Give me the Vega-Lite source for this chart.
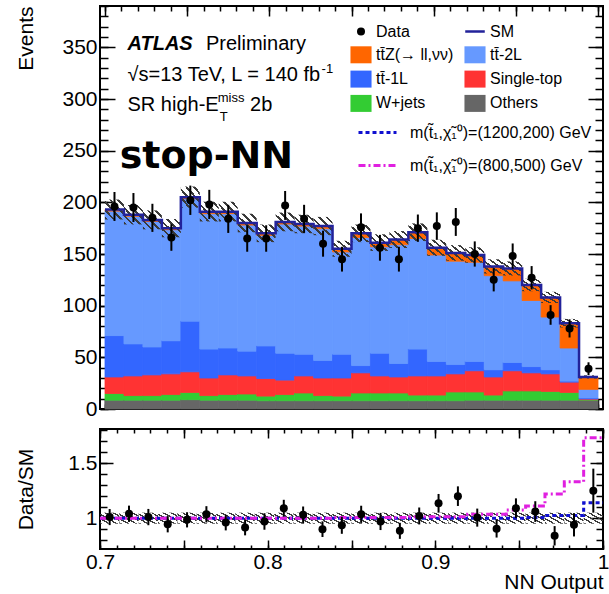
{
  "$schema": "https://vega.github.io/schema/vega-lite/v6.json",
  "padding": {"left": 14, "top": 4, "right": 2, "bottom": 2},
  "background": "white",
  "config": {
    "font": "Liberation Sans",
    "view": {"stroke": "#000000", "strokeWidth": 2},
    "axis": {
      "domain": false, "grid": false, "minExtent": 0,
      "labelFont": "Liberation Sans", "labelFontSize": 21, "labelColor": "#000000",
      "titleFont": "Liberation Sans", "titleFontSize": 21, "titleFontWeight": "normal", "titleColor": "#000000",
      "tickColor": "#000000", "tickWidth": 1.5,
      "labelFlush": false, "labelOverlap": false, "labelBound": false
    },
    "legend": {"labelFont": "Liberation Sans", "labelFontSize": 16, "labelColor": "#000000", "padding": 0, "labelLimit": 400}
  },
  "datasets": {
    "procs": [
      {"proc": "others", "rank": 1},
      {"proc": "wjets", "rank": 2},
      {"proc": "stop", "rank": 3},
      {"proc": "tt1l", "rank": 4},
      {"proc": "tt2l", "rank": 5},
      {"proc": "ttz", "rank": 6}
    ],
    "bins": [
      {"b": 1, "lo": 0.7, "hi": 0.711538, "c": 0.705769, "others": 8.5, "wjets": 6.5, "stop": 16, "tt1l": 40, "tt2l": 120.5, "ttz": 1.5, "sm": 193, "smlo": 183.4, "smhi": 202.7, "data": 196, "dlo": 182, "dhi": 210, "ratio": 1.01, "rlo": 0.937, "rhi": 1.083, "rblo": 0.95, "rbhi": 1.05, "s1": 1, "s2": 1},
      {"b": 2, "lo": 0.711538, "hi": 0.723077, "c": 0.717308, "others": 8.5, "wjets": 4.5, "stop": 19, "tt1l": 31, "tt2l": 123.5, "ttz": 1.5, "sm": 188, "smlo": 178.6, "smhi": 197.4, "data": 195, "dlo": 181, "dhi": 209, "ratio": 1.04, "rlo": 0.966, "rhi": 1.114, "rblo": 0.95, "rbhi": 1.05, "s1": 1, "s2": 1},
      {"b": 3, "lo": 0.723077, "hi": 0.734615, "c": 0.728846, "others": 8.5, "wjets": 4.5, "stop": 20, "tt1l": 27, "tt2l": 121.5, "ttz": 1.5, "sm": 183, "smlo": 173.9, "smhi": 192.2, "data": 185, "dlo": 171.4, "dhi": 198.6, "ratio": 1.01, "rlo": 0.936, "rhi": 1.084, "rblo": 0.95, "rbhi": 1.05, "s1": 1, "s2": 1},
      {"b": 4, "lo": 0.734615, "hi": 0.746154, "c": 0.740385, "others": 8.5, "wjets": 5.5, "stop": 20, "tt1l": 32, "tt2l": 107.5, "ttz": 1.5, "sm": 175, "smlo": 166.3, "smhi": 183.8, "data": 166, "dlo": 153.1, "dhi": 178.9, "ratio": 0.945, "rlo": 0.871, "rhi": 1.019, "rblo": 0.95, "rbhi": 1.05, "s1": 1, "s2": 1},
      {"b": 5, "lo": 0.746154, "hi": 0.757692, "c": 0.751923, "others": 9, "wjets": 7, "stop": 20, "tt1l": 49, "tt2l": 118.5, "ttz": 1.5, "sm": 205, "smlo": 194.8, "smhi": 215.3, "data": 202, "dlo": 187.8, "dhi": 216.2, "ratio": 0.985, "rlo": 0.916, "rhi": 1.054, "rblo": 0.95, "rbhi": 1.05, "s1": 1, "s2": 1},
      {"b": 6, "lo": 0.757692, "hi": 0.769231, "c": 0.763462, "others": 8.5, "wjets": 4.5, "stop": 17, "tt1l": 28, "tt2l": 131, "ttz": 2, "sm": 191, "smlo": 181.5, "smhi": 200.6, "data": 198, "dlo": 183.9, "dhi": 212.1, "ratio": 1.035, "rlo": 0.961, "rhi": 1.109, "rblo": 0.95, "rbhi": 1.05, "s1": 1, "s2": 1},
      {"b": 7, "lo": 0.769231, "hi": 0.780769, "c": 0.775, "others": 8.5, "wjets": 5.5, "stop": 19, "tt1l": 26, "tt2l": 130, "ttz": 2, "sm": 191, "smlo": 181.5, "smhi": 200.6, "data": 184, "dlo": 170.4, "dhi": 197.6, "ratio": 0.96, "rlo": 0.889, "rhi": 1.031, "rblo": 0.95, "rbhi": 1.05, "s1": 1, "s2": 1},
      {"b": 8, "lo": 0.780769, "hi": 0.792308, "c": 0.786538, "others": 8.5, "wjets": 6, "stop": 17.5, "tt1l": 24, "tt2l": 122, "ttz": 2, "sm": 180, "smlo": 171, "smhi": 189, "data": 165, "dlo": 152.2, "dhi": 177.8, "ratio": 0.915, "rlo": 0.844, "rhi": 0.986, "rblo": 0.95, "rbhi": 1.05, "s1": 1, "s2": 1},
      {"b": 9, "lo": 0.792308, "hi": 0.803846, "c": 0.798077, "others": 8, "wjets": 4.5, "stop": 17, "tt1l": 31.5, "tt2l": 107, "ttz": 2, "sm": 170, "smlo": 161.5, "smhi": 178.5, "data": 165, "dlo": 152.2, "dhi": 177.8, "ratio": 0.97, "rlo": 0.895, "rhi": 1.045, "rblo": 0.95, "rbhi": 1.05, "s1": 1, "s2": 1},
      {"b": 10, "lo": 0.803846, "hi": 0.815385, "c": 0.809615, "others": 8, "wjets": 6, "stop": 14, "tt1l": 26, "tt2l": 125, "ttz": 2, "sm": 181, "smlo": 172, "smhi": 190.1, "data": 197, "dlo": 183, "dhi": 211, "ratio": 1.09, "rlo": 1.013, "rhi": 1.167, "rblo": 0.95, "rbhi": 1.05, "s1": 1, "s2": 1},
      {"b": 11, "lo": 0.815385, "hi": 0.826923, "c": 0.821154, "others": 8, "wjets": 7.5, "stop": 16.5, "tt1l": 21, "tt2l": 124, "ttz": 2, "sm": 179, "smlo": 170.1, "smhi": 188, "data": 184, "dlo": 170.4, "dhi": 197.6, "ratio": 1.03, "rlo": 0.954, "rhi": 1.106, "rblo": 0.95, "rbhi": 1.05, "s1": 1, "s2": 1},
      {"b": 12, "lo": 0.826923, "hi": 0.838462, "c": 0.832692, "others": 8, "wjets": 5, "stop": 17, "tt1l": 17, "tt2l": 127.5, "ttz": 2.5, "sm": 177, "smlo": 168.2, "smhi": 185.9, "data": 160, "dlo": 147.4, "dhi": 172.6, "ratio": 0.9, "rlo": 0.829, "rhi": 0.971, "rblo": 0.95, "rbhi": 1.05, "s1": 1, "s2": 1},
      {"b": 13, "lo": 0.838462, "hi": 0.85, "c": 0.844231, "others": 8, "wjets": 4.5, "stop": 17.5, "tt1l": 23, "tt2l": 99, "ttz": 3, "sm": 155, "smlo": 147.3, "smhi": 162.8, "data": 145, "dlo": 133, "dhi": 157, "ratio": 0.935, "rlo": 0.858, "rhi": 1.012, "rblo": 0.95, "rbhi": 1.05, "s1": 1, "s2": 1.005},
      {"b": 14, "lo": 0.85, "hi": 0.861538, "c": 0.855769, "others": 8, "wjets": 7.5, "stop": 19.5, "tt1l": 7, "tt2l": 124, "ttz": 4, "sm": 170, "smlo": 161.5, "smhi": 178.5, "data": 176, "dlo": 162.7, "dhi": 189.3, "ratio": 1.035, "rlo": 0.957, "rhi": 1.113, "rblo": 0.95, "rbhi": 1.05, "s1": 1, "s2": 1.005},
      {"b": 15, "lo": 0.861538, "hi": 0.873077, "c": 0.867308, "others": 8, "wjets": 7.5, "stop": 16.5, "tt1l": 22, "tt2l": 103, "ttz": 4, "sm": 161, "smlo": 153, "smhi": 169.1, "data": 156, "dlo": 143.5, "dhi": 168.5, "ratio": 0.97, "rlo": 0.892, "rhi": 1.048, "rblo": 0.95, "rbhi": 1.05, "s1": 1, "s2": 1.005},
      {"b": 16, "lo": 0.873077, "hi": 0.884615, "c": 0.878846, "others": 8, "wjets": 7.5, "stop": 15.5, "tt1l": 13, "tt2l": 115, "ttz": 5, "sm": 164, "smlo": 155.8, "smhi": 172.2, "data": 145, "dlo": 133, "dhi": 157, "ratio": 0.885, "rlo": 0.812, "rhi": 0.958, "rblo": 0.95, "rbhi": 1.05, "s1": 1, "s2": 1.005},
      {"b": 17, "lo": 0.884615, "hi": 0.896154, "c": 0.890385, "others": 8, "wjets": 5.5, "stop": 18.5, "tt1l": 26, "tt2l": 107, "ttz": 6, "sm": 171, "smlo": 162.5, "smhi": 179.6, "data": 175, "dlo": 161.8, "dhi": 188.2, "ratio": 1.02, "rlo": 0.943, "rhi": 1.097, "rblo": 0.95, "rbhi": 1.05, "s1": 1, "s2": 1.012},
      {"b": 18, "lo": 0.896154, "hi": 0.907692, "c": 0.901923, "others": 8, "wjets": 5.5, "stop": 18.5, "tt1l": 14, "tt2l": 103, "ttz": 7, "sm": 156, "smlo": 148.2, "smhi": 163.8, "data": 177, "dlo": 163.7, "dhi": 190.3, "ratio": 1.135, "rlo": 1.05, "rhi": 1.22, "rblo": 0.95, "rbhi": 1.05, "s1": 1, "s2": 1.012},
      {"b": 19, "lo": 0.907692, "hi": 0.919231, "c": 0.913462, "others": 8, "wjets": 8.5, "stop": 17.5, "tt1l": 9, "tt2l": 100, "ttz": 8, "sm": 151, "smlo": 143.5, "smhi": 158.6, "data": 181, "dlo": 167.5, "dhi": 194.5, "ratio": 1.2, "rlo": 1.111, "rhi": 1.289, "rblo": 0.95, "rbhi": 1.05, "s1": 1, "s2": 1.012},
      {"b": 20, "lo": 0.919231, "hi": 0.930769, "c": 0.925, "others": 8.5, "wjets": 8, "stop": 20.5, "tt1l": 9, "tt2l": 96, "ttz": 7, "sm": 149, "smlo": 141.6, "smhi": 156.5, "data": 150, "dlo": 137.8, "dhi": 162.2, "ratio": 1.005, "rlo": 0.923, "rhi": 1.087, "rblo": 0.95, "rbhi": 1.05, "s1": 1, "s2": 1.035},
      {"b": 21, "lo": 0.930769, "hi": 0.942308, "c": 0.936538, "others": 8.5, "wjets": 5, "stop": 17.5, "tt1l": 7, "tt2l": 91, "ttz": 9, "sm": 138, "smlo": 131.1, "smhi": 144.9, "data": 125, "dlo": 113.8, "dhi": 136.2, "ratio": 0.905, "rlo": 0.824, "rhi": 0.986, "rblo": 0.95, "rbhi": 1.05, "s1": 1, "s2": 1.035},
      {"b": 22, "lo": 0.942308, "hi": 0.953846, "c": 0.948077, "others": 8.5, "wjets": 9, "stop": 19.5, "tt1l": 8, "tt2l": 79, "ttz": 12, "sm": 136, "smlo": 129.2, "smhi": 142.8, "data": 148, "dlo": 135.8, "dhi": 160.2, "ratio": 1.09, "rlo": 1.0, "rhi": 1.18, "rblo": 0.95, "rbhi": 1.05, "s1": 1, "s2": 1.075},
      {"b": 23, "lo": 0.953846, "hi": 0.965385, "c": 0.959615, "others": 8.5, "wjets": 9, "stop": 17.5, "tt1l": 6, "tt2l": 64, "ttz": 15, "sm": 120, "smlo": 114, "smhi": 126, "data": 127, "dlo": 115.7, "dhi": 138.3, "ratio": 1.06, "rlo": 0.966, "rhi": 1.154, "rblo": 0.95, "rbhi": 1.05, "s1": 1.005, "s2": 1.11},
      {"b": 24, "lo": 0.965385, "hi": 0.976923, "c": 0.971154, "others": 8.5, "wjets": 8.5, "stop": 17, "tt1l": 4, "tt2l": 51, "ttz": 19, "sm": 108, "smlo": 102.6, "smhi": 113.4, "data": 91, "dlo": 81.5, "dhi": 100.5, "ratio": 0.84, "rlo": 0.752, "rhi": 0.928, "rblo": 0.95, "rbhi": 1.05, "s1": 1.025, "s2": 1.22},
      {"b": 25, "lo": 0.976923, "hi": 0.988462, "c": 0.982692, "others": 8.5, "wjets": 7.5, "stop": 10, "tt1l": 1, "tt2l": 32, "ttz": 24, "sm": 83, "smlo": 78.9, "smhi": 87.2, "data": 78, "dlo": 69.2, "dhi": 86.8, "ratio": 0.94, "rlo": 0.834, "rhi": 1.046, "rblo": 0.95, "rbhi": 1.05, "s1": 1.025, "s2": 1.33},
      {"b": 26, "lo": 0.988462, "hi": 1.0, "c": 0.994231, "others": 8.5, "wjets": 0.5, "stop": 0.7, "tt1l": 1, "tt2l": 8.3, "ttz": 12, "sm": 31, "smlo": 29.5, "smhi": 32.6, "data": 39, "dlo": 32.8, "dhi": 45.2, "ratio": 1.25, "rlo": 1.05, "rhi": 1.45, "rblo": 0.95, "rbhi": 1.05, "s1": 1.14, "s2": 1.73}
    ]
  },
  "spacing": 20,
  "bounds": "flush",
  "vconcat": [
    {
      "width": 503,
      "height": 403,
      "data": {"name": "bins"},
      "layer": [
        {
          "layer": [
            {
              "transform": [
                {"fold": ["others", "wjets", "stop", "tt1l", "tt2l", "ttz"], "as": ["proc", "events"]},
                {"lookup": "proc", "from": {"data": {"name": "procs"}, "key": "proc", "fields": ["rank"]}}
              ],
              "mark": {"type": "bar", "orient": "vertical", "strokeWidth": 0.8},
              "encoding": {
                "x": {"field": "lo", "type": "quantitative", "scale": {"domain": [0.7, 1.0], "nice": false, "zero": false}, "axis": null},
                "x2": {"field": "hi"},
                "y": {"field": "events", "type": "quantitative", "stack": "zero", "scale": {"domain": [0, 390], "nice": false, "zero": true}, "axis": null},
                "color": {
                  "field": "proc", "type": "nominal",
                  "scale": {
                    "domain": ["data", "ttz", "tt1l", "wjets", "sm", "tt2l", "stop", "others"],
                    "range": ["#000000", "#ff6600", "#3366ff", "#33cc33", "#22229a", "#6699ff", "#ff3333", "#666666"]
                  },
                  "legend": {
                    "title": null, "orient": "none", "legendX": 253, "legendY": 17.5,
                    "columns": 2, "columnPadding": 6, "rowPadding": 6.3,
                    "symbolType": "M-1.24,-1H1.24V1H-1.24Z", "symbolSize": 289, "symbolStrokeWidth": 0,
                    "labelOffset": 7,
                    "labelExpr": "{'data': 'Data', 'sm': 'SM', 'ttz': 'tt\u0304Z(\u2192 ll,\u03bd\u03bd)', 'tt2l': 'tt\u0304-2L', 'tt1l': 'tt\u0304-1L', 'stop': 'Single-top', 'wjets': 'W+jets', 'others': 'Others'}[datum.value]",
                    "encode": {
                      "symbols": {
                        "update": {
                          "shape": {"signal": "datum.value === 'data' ? 'circle' : datum.value === 'sm' ? 'M-1.15,0H1.15' : 'M-1.24,-1H1.24V1H-1.24Z'"},
                          "size": {"signal": "datum.value === 'data' ? 64 : 289"},
                          "stroke": {"signal": "datum.value === 'sm' ? '#22229a' : 'transparent'"},
                          "strokeWidth": {"signal": "datum.value === 'sm' ? 2.5 : 0"}
                        }
                      }
                    }
                  }
                },
                "stroke": {
                  "field": "proc", "type": "nominal",
                  "scale": {"domain": ["others", "wjets", "stop", "tt1l", "tt2l", "ttz"], "range": ["#666666", "#33cc33", "#ff3333", "#3366ff", "#6699ff", "#ff6600"]},
                  "legend": null
                },
                "order": {"field": "rank", "type": "quantitative"}
              }
            },
            {
              "mark": {
                "type": "rect",
                "fill": {
                  "gradient": "linear", "x1": 0, "y1": 1, "x2": 1, "y2": 0,
                  "stops": [
                    {"offset": 0, "color": "#3a3a3a"}, {"offset": 0.07, "color": "#3a3a3a"}, {"offset": 0.07, "color": "rgba(255,255,255,0)"}, {"offset": 0.2, "color": "rgba(255,255,255,0)"},
                    {"offset": 0.2, "color": "#3a3a3a"}, {"offset": 0.27, "color": "#3a3a3a"}, {"offset": 0.27, "color": "rgba(255,255,255,0)"}, {"offset": 0.4, "color": "rgba(255,255,255,0)"},
                    {"offset": 0.4, "color": "#3a3a3a"}, {"offset": 0.47, "color": "#3a3a3a"}, {"offset": 0.47, "color": "rgba(255,255,255,0)"}, {"offset": 0.6, "color": "rgba(255,255,255,0)"},
                    {"offset": 0.6, "color": "#3a3a3a"}, {"offset": 0.67, "color": "#3a3a3a"}, {"offset": 0.67, "color": "rgba(255,255,255,0)"}, {"offset": 0.8, "color": "rgba(255,255,255,0)"},
                    {"offset": 0.8, "color": "#3a3a3a"}, {"offset": 0.87, "color": "#3a3a3a"}, {"offset": 0.87, "color": "rgba(255,255,255,0)"}, {"offset": 1, "color": "rgba(255,255,255,0)"}
                  ]
                }
              },
              "encoding": {
                "x": {"field": "lo", "type": "quantitative", "axis": null},
                "x2": {"field": "hi"},
                "y": {"field": "smlo", "type": "quantitative", "axis": null},
                "y2": {"field": "smhi"}
              }
            },
            {
              "transform": [{"fold": ["lo", "hi"], "as": ["side", "edge"]}],
              "mark": {"type": "line", "color": "#22229a", "strokeWidth": 2.5},
              "encoding": {
                "x": {"field": "edge", "type": "quantitative", "axis": null},
                "y": {"field": "sm", "type": "quantitative", "axis": null},
                "order": [{"field": "b", "type": "quantitative"}, {"field": "side", "type": "ordinal", "sort": "descending"}]
              }
            },
            {
              "mark": {"type": "rule", "color": "#000000", "strokeWidth": 2},
              "encoding": {
                "x": {"field": "c", "type": "quantitative", "axis": null},
                "y": {"field": "dlo", "type": "quantitative", "axis": null},
                "y2": {"field": "dhi"}
              }
            },
            {
              "mark": {"type": "circle", "color": "#000000", "opacity": 1, "size": 64},
              "encoding": {
                "x": {"field": "c", "type": "quantitative", "axis": null},
                "y": {"field": "data", "type": "quantitative", "axis": null}
              }
            },
            {
              "data": {"values": [{}]},
              "mark": {"type": "text", "text": "ATLAS", "align": "left", "baseline": "alphabetic", "font": "Liberation Sans", "fontSize": 20, "fontStyle": "italic", "fontWeight": "bold", "color": "#000000"},
              "encoding": {"x": {"datum": 0.71371, "type": "quantitative", "axis": null}, "y": {"datum": 347.42, "type": "quantitative", "axis": null}}
            },
            {
              "data": {"values": [{}]},
              "mark": {"type": "text", "text": "Preliminary", "align": "left", "baseline": "alphabetic", "font": "Liberation Sans", "fontSize": 20, "color": "#000000"},
              "encoding": {"x": {"datum": 0.76142, "type": "quantitative", "axis": null}, "y": {"datum": 347.42, "type": "quantitative", "axis": null}}
            },
            {
              "data": {"values": [{}]},
              "mark": {"type": "text", "text": "\u221as=13 TeV, L = 140 fb", "align": "left", "baseline": "alphabetic", "font": "Liberation Sans", "fontSize": 20, "color": "#000000"},
              "encoding": {"x": {"datum": 0.71371, "type": "quantitative", "axis": null}, "y": {"datum": 317.42, "type": "quantitative", "axis": null}}
            },
            {
              "data": {"values": [{}]},
              "mark": {"type": "text", "text": "-1", "align": "left", "baseline": "alphabetic", "font": "Liberation Sans", "fontSize": 13, "color": "#000000"},
              "encoding": {"x": {"datum": 0.8318, "type": "quantitative", "axis": null}, "y": {"datum": 325.16, "type": "quantitative", "axis": null}}
            },
            {
              "data": {"values": [{}]},
              "mark": {"type": "text", "text": "SR high-E", "align": "left", "baseline": "alphabetic", "font": "Liberation Sans", "fontSize": 20, "color": "#000000"},
              "encoding": {"x": {"datum": 0.71371, "type": "quantitative", "axis": null}, "y": {"datum": 288.39, "type": "quantitative", "axis": null}}
            },
            {
              "data": {"values": [{}]},
              "mark": {"type": "text", "text": "miss", "align": "left", "baseline": "alphabetic", "font": "Liberation Sans", "fontSize": 13, "color": "#000000"},
              "encoding": {"x": {"datum": 0.76858, "type": "quantitative", "axis": null}, "y": {"datum": 297.1, "type": "quantitative", "axis": null}}
            },
            {
              "data": {"values": [{}]},
              "mark": {"type": "text", "text": "T", "align": "left", "baseline": "alphabetic", "font": "Liberation Sans", "fontSize": 13, "color": "#000000"},
              "encoding": {"x": {"datum": 0.76977, "type": "quantitative", "axis": null}, "y": {"datum": 278.71, "type": "quantitative", "axis": null}}
            },
            {
              "data": {"values": [{}]},
              "mark": {"type": "text", "text": "2b", "align": "left", "baseline": "alphabetic", "font": "Liberation Sans", "fontSize": 20, "color": "#000000"},
              "encoding": {"x": {"datum": 0.78826, "type": "quantitative", "axis": null}, "y": {"datum": 288.39, "type": "quantitative", "axis": null}}
            },
            {
              "data": {"values": [{}]},
              "mark": {"type": "text", "text": "stop-NN", "align": "left", "baseline": "alphabetic", "font": "DejaVu Sans", "fontSize": 38, "fontWeight": "bold", "color": "#000000"},
              "encoding": {"x": {"datum": 0.70894, "type": "quantitative", "axis": null}, "y": {"datum": 233.23, "type": "quantitative", "axis": null}}
            }
          ]
        },
        {
          "mark": {"type": "point", "opacity": 0},
          "encoding": {
            "x": {"field": "c", "type": "quantitative", "axis": {"orient": "bottom", "title": null, "labels": false, "values": [0.7, 0.75, 0.8, 0.85, 0.9, 0.95, 1.0], "tickSize": -10}},
            "y": {"field": "sm", "type": "quantitative", "axis": {"orient": "left", "title": "Events", "titleAnchor": "end", "titlePadding": 25, "values": [0, 50, 100, 150, 200, 250, 300, 350], "tickSize": -15, "labelPadding": 18}}
          }
        },
        {
          "mark": {"type": "point", "opacity": 0},
          "encoding": {
            "x": {"field": "c", "type": "quantitative", "axis": {"orient": "bottom", "title": null, "labels": false, "values": [0.7, 0.71, 0.72, 0.73, 0.74, 0.75, 0.76, 0.77, 0.78, 0.79, 0.8, 0.81, 0.82, 0.83, 0.84, 0.85, 0.86, 0.87, 0.88, 0.89, 0.9, 0.91, 0.92, 0.93, 0.94, 0.95, 0.96, 0.97, 0.98, 0.99, 1.0], "tickSize": -5}},
            "y": {"field": "sm", "type": "quantitative", "axis": {"orient": "left", "title": null, "labels": false, "values": [0, 10, 20, 30, 40, 50, 60, 70, 80, 90, 100, 110, 120, 130, 140, 150, 160, 170, 180, 190, 200, 210, 220, 230, 240, 250, 260, 270, 280, 290, 300, 310, 320, 330, 340, 350, 360, 370, 380, 390], "tickSize": -8}}
          }
        },
        {
          "mark": {"type": "point", "opacity": 0},
          "encoding": {
            "x": {"field": "c", "type": "quantitative", "axis": {"orient": "top", "title": null, "labels": false, "values": [0.7, 0.75, 0.8, 0.85, 0.9, 0.95, 1.0], "tickSize": -10}},
            "y": {"field": "sm", "type": "quantitative", "axis": {"orient": "right", "title": null, "labels": false, "values": [0, 50, 100, 150, 200, 250, 300, 350], "tickSize": -15}}
          }
        },
        {
          "mark": {"type": "point", "opacity": 0},
          "encoding": {
            "x": {"field": "c", "type": "quantitative", "axis": {"orient": "top", "title": null, "labels": false, "values": [0.7, 0.71, 0.72, 0.73, 0.74, 0.75, 0.76, 0.77, 0.78, 0.79, 0.8, 0.81, 0.82, 0.83, 0.84, 0.85, 0.86, 0.87, 0.88, 0.89, 0.9, 0.91, 0.92, 0.93, 0.94, 0.95, 0.96, 0.97, 0.98, 0.99, 1.0], "tickSize": -5}},
            "y": {"field": "sm", "type": "quantitative", "axis": {"orient": "right", "title": null, "labels": false, "values": [0, 10, 20, 30, 40, 50, 60, 70, 80, 90, 100, 110, 120, 130, 140, 150, 160, 170, 180, 190, 200, 210, 220, 230, 240, 250, 260, 270, 280, 290, 300, 310, 320, 330, 340, 350, 360, 370, 380, 390], "tickSize": -8}}
          }
        }
      ],
      "resolve": {"axis": {"x": "independent", "y": "independent"}}
    },
    {
      "width": 503,
      "height": 120,
      "data": {"name": "bins"},
      "layer": [
        {
          "layer": [
            {
              "mark": {
                "type": "rect",
                "fill": {
                  "gradient": "linear", "x1": 0, "y1": 1, "x2": 1, "y2": 0,
                  "stops": [
                    {"offset": 0, "color": "#3a3a3a"}, {"offset": 0.07, "color": "#3a3a3a"}, {"offset": 0.07, "color": "rgba(255,255,255,0)"}, {"offset": 0.2, "color": "rgba(255,255,255,0)"},
                    {"offset": 0.2, "color": "#3a3a3a"}, {"offset": 0.27, "color": "#3a3a3a"}, {"offset": 0.27, "color": "rgba(255,255,255,0)"}, {"offset": 0.4, "color": "rgba(255,255,255,0)"},
                    {"offset": 0.4, "color": "#3a3a3a"}, {"offset": 0.47, "color": "#3a3a3a"}, {"offset": 0.47, "color": "rgba(255,255,255,0)"}, {"offset": 0.6, "color": "rgba(255,255,255,0)"},
                    {"offset": 0.6, "color": "#3a3a3a"}, {"offset": 0.67, "color": "#3a3a3a"}, {"offset": 0.67, "color": "rgba(255,255,255,0)"}, {"offset": 0.8, "color": "rgba(255,255,255,0)"},
                    {"offset": 0.8, "color": "#3a3a3a"}, {"offset": 0.87, "color": "#3a3a3a"}, {"offset": 0.87, "color": "rgba(255,255,255,0)"}, {"offset": 1, "color": "rgba(255,255,255,0)"}
                  ]
                }
              },
              "encoding": {
                "x": {"field": "lo", "type": "quantitative", "scale": {"domain": [0.7, 1.0], "nice": false, "zero": false}, "axis": null},
                "x2": {"field": "hi"},
                "y": {"field": "rblo", "type": "quantitative", "scale": {"domain": [0.72, 1.81], "nice": false, "zero": false}, "axis": null},
                "y2": {"field": "rbhi"}
              }
            },
            {
              "transform": [
                {"fold": ["lo", "hi"], "as": ["side", "edge"]},
                {"fold": ["s1", "s2"], "as": ["sig", "rv"]}
              ],
              "mark": {"type": "line", "strokeWidth": 3},
              "encoding": {
                "x": {"field": "edge", "type": "quantitative", "axis": null},
                "y": {"field": "rv", "type": "quantitative", "axis": null},
                "stroke": {
                  "field": "sig", "type": "nominal",
                  "scale": {"domain": ["s1", "s2"], "range": ["#1010d0", "#e020e0"]},
                  "legend": {
                    "title": null, "orient": "none", "legendX": 266.5, "legendY": -307.5,
                    "direction": "vertical", "symbolType": "M-2,0H2", "symbolSize": 361, "symbolStrokeWidth": 3,
                    "labelOffset": 21.5, "rowPadding": 14,
                    "labelExpr": "datum.value === 's1' ? 'm(t\u0303\u2081,\u03c7\u0303\u2081\u2070)=(1200,200) GeV' : 'm(t\u0303\u2081,\u03c7\u0303\u2081\u2070)=(800,500) GeV'",
                    "encode": {"symbols": {"update": {"strokeDash": {"signal": "datum.value === 's1' ? [4, 3] : [7, 3, 2, 3]"}}}}
                  }
                },
                "strokeDash": {
                  "field": "sig", "type": "nominal",
                  "scale": {"domain": ["s1", "s2"], "range": [[4, 3], [7, 3, 2, 3]]},
                  "legend": null
                },
                "order": [{"field": "b", "type": "quantitative"}, {"field": "side", "type": "ordinal", "sort": "descending"}]
              }
            },
            {
              "mark": {"type": "rule", "color": "#000000", "strokeWidth": 2},
              "encoding": {
                "x": {"field": "c", "type": "quantitative", "axis": null},
                "y": {"field": "rlo", "type": "quantitative", "axis": null},
                "y2": {"field": "rhi"}
              }
            },
            {
              "mark": {"type": "circle", "color": "#000000", "opacity": 1, "size": 64},
              "encoding": {
                "x": {"field": "c", "type": "quantitative", "axis": null},
                "y": {"field": "ratio", "type": "quantitative", "axis": null}
              }
            }
          ]
        },
        {
          "mark": {"type": "point", "opacity": 0},
          "encoding": {
            "x": {"field": "c", "type": "quantitative", "axis": {"orient": "bottom", "title": "NN Output", "titleAnchor": "end", "titlePadding": -1, "values": [0.7, 0.75, 0.8, 0.85, 0.9, 0.95, 1.0], "tickSize": -9, "labelPadding": 11, "labelExpr": "abs(datum.value * 10 - round(datum.value * 10)) < 0.01 ? format(datum.value, '~g') : ''"}},
            "y": {"field": "ratio", "type": "quantitative", "axis": {"orient": "left", "title": "Data/SM", "titlePadding": 31, "values": [1.0, 1.5], "tickSize": -13, "labelPadding": 16, "labelExpr": "format(datum.value, '~g')"}}
          }
        },
        {
          "mark": {"type": "point", "opacity": 0},
          "encoding": {
            "x": {"field": "c", "type": "quantitative", "axis": {"orient": "bottom", "title": null, "labels": false, "values": [0.7, 0.71, 0.72, 0.73, 0.74, 0.75, 0.76, 0.77, 0.78, 0.79, 0.8, 0.81, 0.82, 0.83, 0.84, 0.85, 0.86, 0.87, 0.88, 0.89, 0.9, 0.91, 0.92, 0.93, 0.94, 0.95, 0.96, 0.97, 0.98, 0.99, 1.0], "tickSize": -4}},
            "y": {"field": "ratio", "type": "quantitative", "axis": {"orient": "left", "title": null, "labels": false, "values": [0.8, 0.9, 1.0, 1.1, 1.2, 1.3, 1.4, 1.5, 1.6, 1.7, 1.8], "tickSize": -7}}
          }
        },
        {
          "mark": {"type": "point", "opacity": 0},
          "encoding": {
            "x": {"field": "c", "type": "quantitative", "axis": {"orient": "top", "title": null, "labels": false, "values": [0.7, 0.75, 0.8, 0.85, 0.9, 0.95, 1.0], "tickSize": -9}},
            "y": {"field": "ratio", "type": "quantitative", "axis": {"orient": "right", "title": null, "labels": false, "values": [1.0, 1.5], "tickSize": -13}}
          }
        },
        {
          "mark": {"type": "point", "opacity": 0},
          "encoding": {
            "x": {"field": "c", "type": "quantitative", "axis": {"orient": "top", "title": null, "labels": false, "values": [0.7, 0.71, 0.72, 0.73, 0.74, 0.75, 0.76, 0.77, 0.78, 0.79, 0.8, 0.81, 0.82, 0.83, 0.84, 0.85, 0.86, 0.87, 0.88, 0.89, 0.9, 0.91, 0.92, 0.93, 0.94, 0.95, 0.96, 0.97, 0.98, 0.99, 1.0], "tickSize": -4}},
            "y": {"field": "ratio", "type": "quantitative", "axis": {"orient": "right", "title": null, "labels": false, "values": [0.8, 0.9, 1.0, 1.1, 1.2, 1.3, 1.4, 1.5, 1.6, 1.7, 1.8], "tickSize": -7}}
          }
        }
      ],
      "resolve": {"axis": {"x": "independent", "y": "independent"}}
    }
  ],
  "resolve": {
    "scale": {"color": "independent", "stroke": "independent", "strokeDash": "independent"},
    "legend": {"color": "independent", "stroke": "independent", "strokeDash": "independent"}
  }
}
